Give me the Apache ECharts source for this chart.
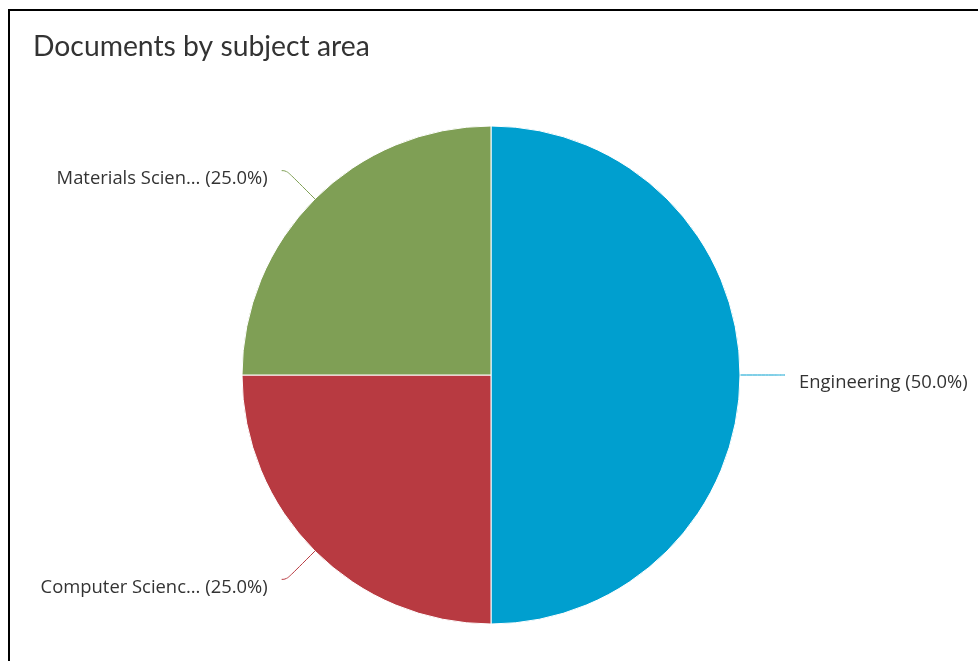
<!DOCTYPE html>
<html>
<head>
<meta charset="utf-8">
<script src="https://cdn.jsdelivr.net/npm/echarts@6/dist/echarts.min.js"></script>
<style>
html, body { margin: 0; padding: 0; background: #fff; }
.com-container { position: relative; width: 978px; height: 661px; overflow: hidden; }
/* 左上方的黑色边框 */
.frame {
    position: absolute;
    left: 8px;
    top: 9px;
    width: 1200px;
    height: 1000px;
    border-left: 2px solid #000;
    border-top: 2px solid #000;
    box-sizing: border-box;
}
.com-chart { position: absolute; left: 0; top: 0; width: 978px; height: 661px; }
</style>
</head>
<body>
<div class="com-container">
    <div class="frame"></div>
    <div class="com-chart" id="chart"></div>
</div>
<script>
// 数据
const subjects = ['Engineering', 'Computer Science', 'Materials Science']
const docCounts = [2, 1, 1]
const sliceColors = ['#009fcf', '#b83a41', '#7f9f55']

const chartInstance = echarts.init(document.getElementById('chart'))

// 名称过长时截断
const shortName = (name) => {
    return name.length > 15 ? name.slice(0, 15) + '...' : name
}

const seriesData = subjects.map((name, i) => {
    return {
        name: name,
        value: docCounts[i],
        itemStyle: { color: sliceColors[i] }
    }
})

const option = {
    animation: false,
    title: {
        text: 'Documents by subject area',
        left: 28,
        top: 28,
        textStyle: {
            fontFamily: 'Lato',
            fontWeight: 'normal',
            fontSize: 28.3,
            color: '#333'
        }
    },
    series: [
        {
            type: 'pie',
            center: [491, 375],
            radius: 249,
            startAngle: 90,
            clockwise: true,
            avoidLabelOverlap: false,
            itemStyle: {
                borderColor: '#fff',
                borderWidth: 1
            },
            label: {
                show: true,
                fontFamily: 'Open Sans',
                fontSize: 18.4,
                lineHeight: 16,
                color: '#333',
                distanceToLabelLine: 14,
                // 第一行留空，让文字比引导线末端略低
                formatter: (p) => `\n${shortName(p.name)} (${p.percent.toFixed(1)}%)`
            },
            labelLine: {
                show: true,
                length: 40,
                length2: 5,
                smooth: 0.5,
                lineStyle: { width: 1 }
            },
            emphasis: { disabled: true },
            data: seriesData
        }
    ]
}
chartInstance.setOption(option)
</script>
</body>
</html>
